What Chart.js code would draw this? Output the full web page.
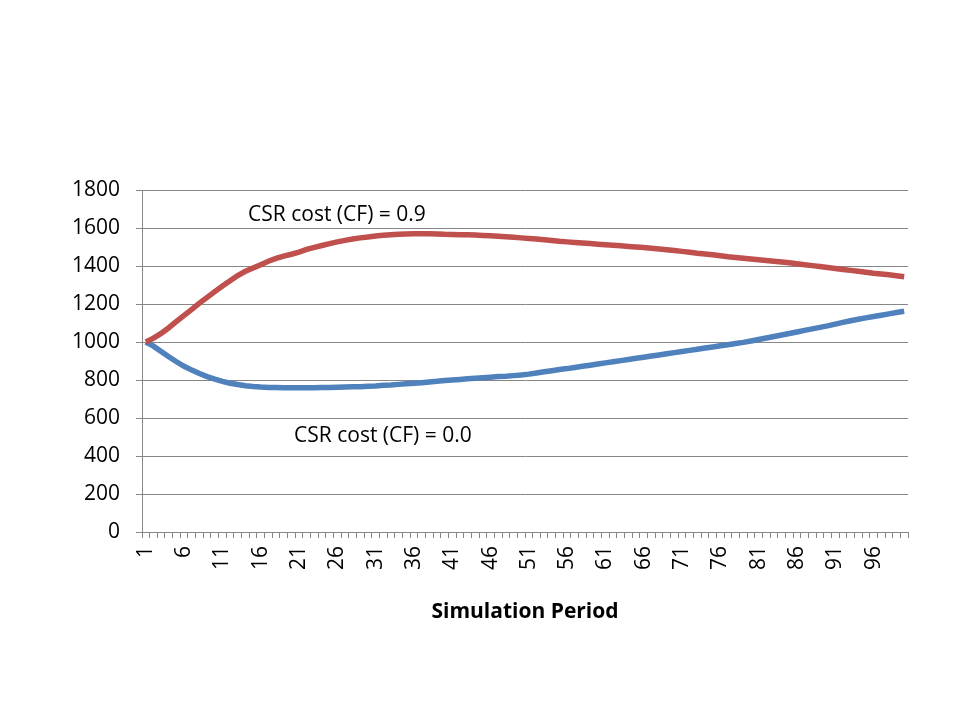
<!DOCTYPE html>
<html>
<head>
<meta charset="utf-8">
<script src="https://cdn.jsdelivr.net/npm/chart.js@4.4.0/dist/chart.umd.min.js"></script>
<style>
    html, body { margin: 0; padding: 0; background: #fff; }
    #wrap { width: 960px; height: 720px; }
</style>
</head>
<body>
<div id="wrap"><canvas id="chart-csr" width="960" height="720"></canvas></div>
<script>
// Simulation periods 1..100 (category axis)
const periods = Array.from({ length: 100 }, (_, i) => String(i + 1));

// CSR cost (CF) = 0.9  (red)
const seriesCF09 = [
    1000, 1020, 1045, 1075, 1108, 1140, 1172, 1205, 1235, 1265,
    1295, 1322, 1350, 1372, 1390, 1407, 1425, 1440, 1452, 1462,
    1473, 1487, 1498, 1508, 1518, 1527, 1535, 1542, 1548, 1553,
    1558, 1562, 1565, 1567, 1569, 1570, 1570, 1570, 1569, 1567,
    1566, 1565, 1564, 1563, 1561, 1559, 1557, 1554, 1551, 1548,
    1545, 1542, 1538, 1534, 1530, 1527, 1524, 1521, 1518, 1515,
    1512, 1509, 1506, 1503, 1500, 1497, 1493, 1489, 1485, 1481,
    1477, 1472, 1467, 1463, 1459, 1454, 1449, 1445, 1441, 1437,
    1433, 1429, 1425, 1421, 1417, 1412, 1407, 1402, 1397, 1392,
    1387, 1382, 1377, 1372, 1367, 1362, 1358, 1354, 1349, 1343
];

// CSR cost (CF) = 0.0  (blue)
const seriesCF00 = [
    1000, 978, 950, 922, 896, 872, 852, 834, 818, 805,
    793, 783, 776, 770, 766, 763, 761, 760, 759, 759,
    759, 759, 759, 760, 761, 762, 763, 764, 765, 767,
    769, 772, 774, 777, 780, 783, 786, 790, 793, 797,
    800, 803, 806, 809, 812, 815, 818, 820, 823, 826,
    831, 837, 843, 849, 855, 860, 866, 872, 878, 884,
    890, 896, 902, 908, 914, 920, 926, 932, 938, 944,
    950, 956, 962, 968, 974, 980, 986, 992, 998, 1005,
    1013, 1021, 1029, 1037, 1045, 1053, 1061, 1069, 1077, 1085,
    1094, 1103, 1112, 1120, 1127, 1134, 1141, 1148, 1155, 1162
];

// Text labels placed next to the curves: [text, period, value]
const curveLabels = [
    ['CSR cost (CF) = 0.9', '15', 1670],
    ['CSR cost (CF) = 0.0', '21', 505]
];

const FONT = "'Open Sans', 'Noto Sans', sans-serif";
const GRID = '#868686';

// Draw the curve captions through the chart's own scales
const curveLabelPlugin = {
    id: 'curveLabels',
    afterDatasetsDraw(chart) {
        const { ctx, scales } = chart;
        ctx.save();
        ctx.font = `21px ${FONT}`;
        ctx.fillStyle = '#000';
        ctx.textAlign = 'left';
        ctx.textBaseline = 'middle';
        curveLabels.forEach(([text, period, value]) => {
            const x = scales.x.getPixelForValue(periods.indexOf(period)) - 5;
            const y = scales.y.getPixelForValue(value);
            ctx.fillText(text, x, y);
        });
        ctx.restore();
    }
};

new Chart(document.getElementById('chart-csr'), {
    type: 'line',
    data: {
        labels: periods,
        datasets: [{
            label: 'CSR cost (CF) = 0.9',
            data: seriesCF09,
            borderColor: '#C0504D',
            borderWidth: 5.5,
            pointRadius: 0,
            tension: 0
        }, {
            label: 'CSR cost (CF) = 0.0',
            data: seriesCF00,
            borderColor: '#4F81BD',
            borderWidth: 5.5,
            pointRadius: 0,
            tension: 0
        }]
    },
    options: {
        responsive: false,
        animation: false,
        layout: {
            padding: { left: 0, top: 190, right: 52, bottom: 95 }
        },
        plugins: {
            legend: { display: false },
            tooltip: { enabled: false }
        },
        scales: {
            x: {
                offset: true,
                afterFit: (scale) => { scale.height = 93; },
                grid: {
                    offset: true,
                    drawOnChartArea: false,
                    drawTicks: true,
                    tickLength: 6,
                    color: GRID
                },
                border: { color: GRID, width: 1 },
                ticks: {
                    autoSkip: false,
                    minRotation: 90,
                    maxRotation: 90,
                    padding: 8,
                    color: '#000',
                    font: { family: FONT, size: 21 },
                    callback: function (val, index) {
                        return index % 5 === 0 ? this.getLabelForValue(val) : '';
                    }
                },
                title: {
                    display: true,
                    text: 'Simulation Period',
                    color: '#000',
                    font: { family: FONT, size: 21, weight: 'bold' },
                    padding: { top: 4, bottom: 0 }
                }
            },
            y: {
                min: 0,
                max: 1800,
                afterFit: (scale) => { scale.width = 142; },
                grid: {
                    color: GRID,
                    tickLength: 6,
                    drawTicks: true
                },
                border: { color: GRID, width: 1 },
                ticks: {
                    stepSize: 200,
                    padding: 16,
                    color: '#000',
                    font: { family: FONT, size: 21 },
                    callback: (v) => String(v)
                }
            }
        }
    },
    plugins: [curveLabelPlugin]
});
</script>
</body>
</html>
